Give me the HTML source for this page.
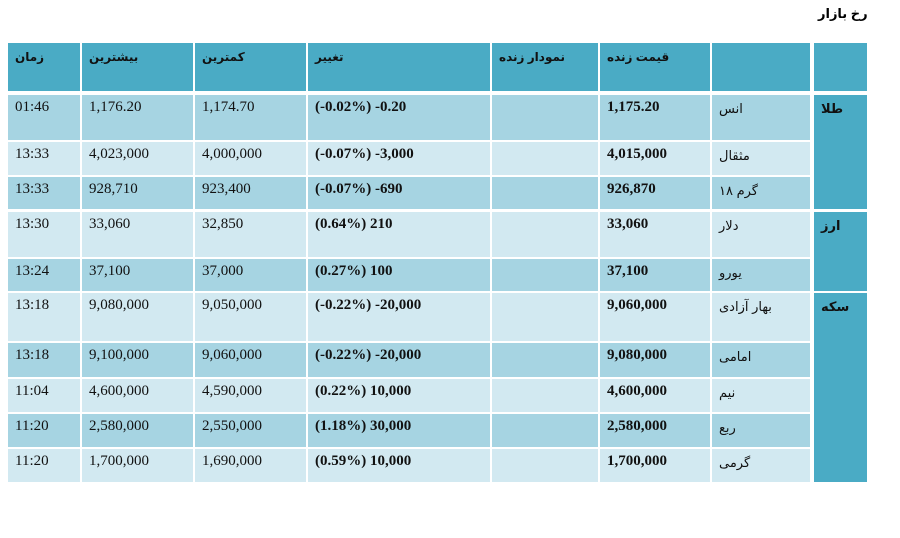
<!DOCTYPE html>
<html><head><meta charset="utf-8">
<style>
body{margin:0;width:900px;height:538px;background:#fff;position:relative;overflow:hidden;font-family:"Liberation Serif","Noto Sans CJK SC",serif;}
.c{position:absolute;box-sizing:border-box;padding:3px 0 0 7px;font-size:15px;line-height:18px;color:#111;white-space:nowrap;}
.h{background:#4aabc5;font-family:"Liberation Sans","DejaVu Sans",sans-serif;font-weight:bold;font-size:12px;padding-top:5px;}
.d{background:#a6d4e2}.l{background:#d2e9f1}
.b{font-weight:bold}
.fa{font-family:"Liberation Sans","DejaVu Sans",sans-serif;font-size:13px;padding-top:5px}
.cat{background:#4aabc5;font-family:"Liberation Sans","DejaVu Sans",sans-serif;font-weight:bold;font-size:13px;padding-top:5px}
#title{position:absolute;left:818px;top:6px;font-family:"Liberation Sans","DejaVu Sans",sans-serif;font-weight:bold;font-size:13px;}
</style></head>
<body>
<div id="title">رخ بازار</div>
<div id="tbl"></div>
<script>
var colX=[8,82,195,308,492,600,712,814];
var colW=[72,111,111,182,106,110,98,53];
var headers=["زمان","بیشترین","کمترین","تغییر","نمودار زنده","قیمت زنده","",""];
var rowY=[95,142,177,212,259,293,343,379,414,449];
var rowH=[45,33,32,45,32,48,34,33,33,33];
var times=["01:46","13:33","13:33","13:30","13:24","13:18","13:18","11:04","11:20","11:20"];
var highs=["1,176.20","4,023,000","928,710","33,060","37,100","9,080,000","9,100,000","4,600,000","2,580,000","1,700,000"];
var lows=["1,174.70","4,000,000","923,400","32,850","37,000","9,050,000","9,060,000","4,590,000","2,550,000","1,690,000"];
var changes=["(-0.02%) -0.20","(-0.07%) -3,000","(-0.07%) -690","(0.64%) 210","(0.27%) 100","(-0.22%) -20,000","(-0.22%) -20,000","(0.22%) 10,000","(1.18%) 30,000","(0.59%) 10,000"];
var prices=["1,175.20","4,015,000","926,870","33,060","37,100","9,060,000","9,080,000","4,600,000","2,580,000","1,700,000"];
var names=["انس","مثقال","گرم ۱۸","دلار","یورو","بهار آزادی","امامی","نیم","ربع","گرمی"];
var cats=[["طلا",0,2],["ارز",3,4],["سکه",5,9]];
var tbl=document.getElementById('tbl');
function cell(x,y,w,h,cls,txt){var e=document.createElement('div');e.className='c '+cls;e.style.left=x+'px';e.style.top=y+'px';e.style.width=w+'px';e.style.height=h+'px';e.textContent=txt;tbl.appendChild(e);return e;}
headers.forEach(function(t,i){var e=cell(colX[i],43,colW[i],48,'h',t);

});
for(var r=0;r<times.length;r++){
 var s=(r%2==0)?'d':'l';
 var vals=[times[r],highs[r],lows[r],changes[r],"",prices[r],names[r]];
 var cl=['','','','b','','b','fa'];
 for(var i=0;i<7;i++){var e=cell(colX[i],rowY[r],colW[i],rowH[r],s+' '+cl[i],vals[i]);
  
  }
}
cats.forEach(function(c){var y=rowY[c[1]],h=rowY[c[2]]+rowH[c[2]]-y;var e=cell(colX[7],y,colW[7],h,'cat',c[0]);

});
</script>
</body></html>
